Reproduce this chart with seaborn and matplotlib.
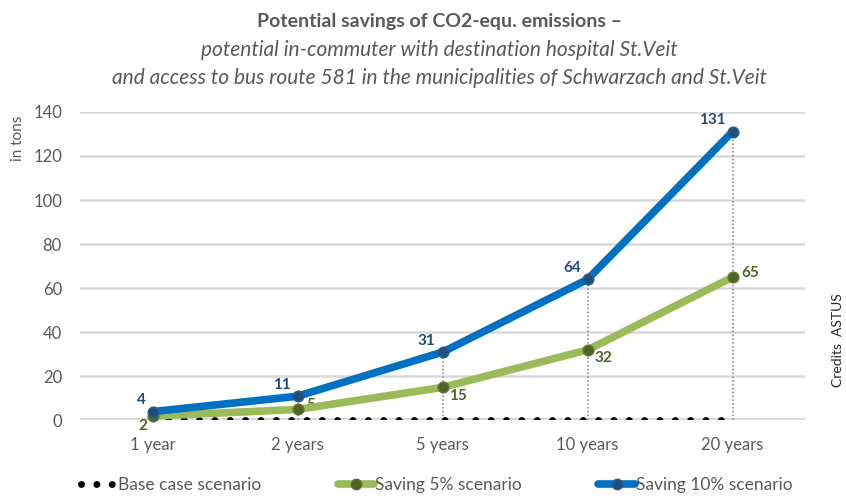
import matplotlib.pyplot as plt
import seaborn as sns
import numpy as np
import pandas as pd
from matplotlib.lines import Line2D

# --- data ---
periods = ["1 year", "2 years", "5 years", "10 years", "20 years"]
base_case = [0, 0, 0, 0, 0]
saving_5 = [2, 5, 15, 32, 65]
saving_10 = [4, 11, 31, 64, 131]
y_ticks = [0, 20, 40, 60, 80, 100, 120, 140]
legend_labels = ["Base case scenario", "Saving 5% scenario", "Saving 10% scenario"]

# --- style ---
sns.set_theme(style="white")
plt.rcParams["font.family"] = ["Lato", "DejaVu Sans"]

GRAY_TXT = "#595959"
GRID = "#D9D9D9"
BLUE = "#0070C0"
BLUE_DARK = "#1F4E79"
GREEN = "#9BBB59"
GREEN_DARK = "#4F6228"
LW = 5.5
MS = 7.5
BASE_STYLE = dict(color="black", linewidth=5, linestyle=(0, (0.01, 2.2)),
                  dash_capstyle="round")

df = pd.DataFrame({"period": periods, "x": range(len(periods)),
                   "base": base_case, "s5": saving_5, "s10": saving_10})

fig = plt.figure(figsize=(8.46, 4.97), dpi=100)
ax = fig.add_axes([0.0946, 0.154, 0.857, 0.621])

# drop lines from the 10% series down to the axis
ax.vlines(df["x"], 0, df["s10"], colors="#7F7F7F", linestyles=(0, (1, 1.5)),
          linewidth=1.1, zorder=2)

# base case: row of black dots sitting on the axis
ax.plot(df["x"], df["base"], zorder=3, **BASE_STYLE)

sns.lineplot(data=df, x="x", y="s5", ax=ax, color=GREEN, linewidth=LW,
             marker="o", markersize=MS, markerfacecolor=GREEN_DARK,
             markeredgecolor="#5E7430", markeredgewidth=1.2, zorder=4, clip_on=False)
sns.lineplot(data=df, x="x", y="s10", ax=ax, color=BLUE, linewidth=LW,
             marker="o", markersize=MS, markerfacecolor=BLUE_DARK,
             markeredgecolor="#2A5D8F", markeredgewidth=1.2, zorder=5, clip_on=False)

# data labels
for x, v in zip(df["x"], df["s10"]):
    ax.annotate(str(v), (x, v), xytext=(-5, 3), textcoords="offset points",
                ha="right", va="bottom", color=BLUE_DARK, fontsize=11,
                fontweight="bold")
for x, v in zip(df["x"], df["s5"]):
    if x == 0:
        xy_off, ha = (-4, -7), "right"
    elif x in (2, 3):
        xy_off, ha = (5, -6), "left"
    else:
        xy_off, ha = (6, 3), "left"
    ax.annotate(str(v), (x, v), xytext=xy_off, textcoords="offset points",
                ha=ha, va="center", color=GREEN_DARK, fontsize=11,
                fontweight="bold")

# axes styling
ax.set_xlim(-0.5, len(periods) - 0.5)
ax.set_ylim(0, 140)
ax.set_yticks(y_ticks)
ax.set_xticks(df["x"])
ax.set_xticklabels(periods)
ax.grid(axis="y", color=GRID, linewidth=1.8)
ax.set_axisbelow(True)
for s in ["top", "right", "left", "bottom"]:
    ax.spines[s].set_visible(False)
ax.axhline(0, color=GRID, linewidth=3, zorder=1)
ax.tick_params(axis="x", length=0, labelsize=12, labelcolor=GRAY_TXT, pad=12)
ax.tick_params(axis="y", length=0, labelsize=12, labelcolor=GRAY_TXT, pad=13)
ax.set_xlabel("")
ax.set_ylabel("")

fig.text(0.021, 0.722, "in tons", rotation=90, ha="center", va="center",
         fontsize=11, color=GRAY_TXT)
fig.text(0.99, 0.316, "Credits  ASTUS", rotation=90, ha="center", va="center",
         fontsize=10, color="#262626")

# title
fig.text(0.519, 0.957, "Potential savings of CO2-equ. emissions –", ha="center",
         va="center", fontsize=14, fontweight="bold", color=GRAY_TXT)
fig.text(0.519, 0.899, "potential in-commuter with destination hospital St.Veit",
         ha="center", va="center", fontsize=15, style="italic", color=GRAY_TXT)
fig.text(0.519, 0.843,
         "and access to bus route 581 in the municipalities of Schwarzach and St.Veit",
         ha="center", va="center", fontsize=15, style="italic", color=GRAY_TXT)

# legend
handles = [
    Line2D([0], [0], **BASE_STYLE),
    Line2D([0], [0], color=GREEN, linewidth=LW, marker="o", markersize=MS,
           markerfacecolor=GREEN_DARK, markeredgecolor="#5E7430"),
    Line2D([0], [0], color=BLUE, linewidth=LW, marker="o", markersize=MS,
           markerfacecolor=BLUE_DARK, markeredgecolor="#2A5D8F"),
]
fig.legend(handles, legend_labels,
           loc="center", bbox_to_anchor=(0.516, 0.024), ncol=3, frameon=False,
           fontsize=12.5, handlelength=2.1, handletextpad=0.05, columnspacing=4.4,
           labelcolor=GRAY_TXT)

fig.savefig("out.png", dpi=100)
